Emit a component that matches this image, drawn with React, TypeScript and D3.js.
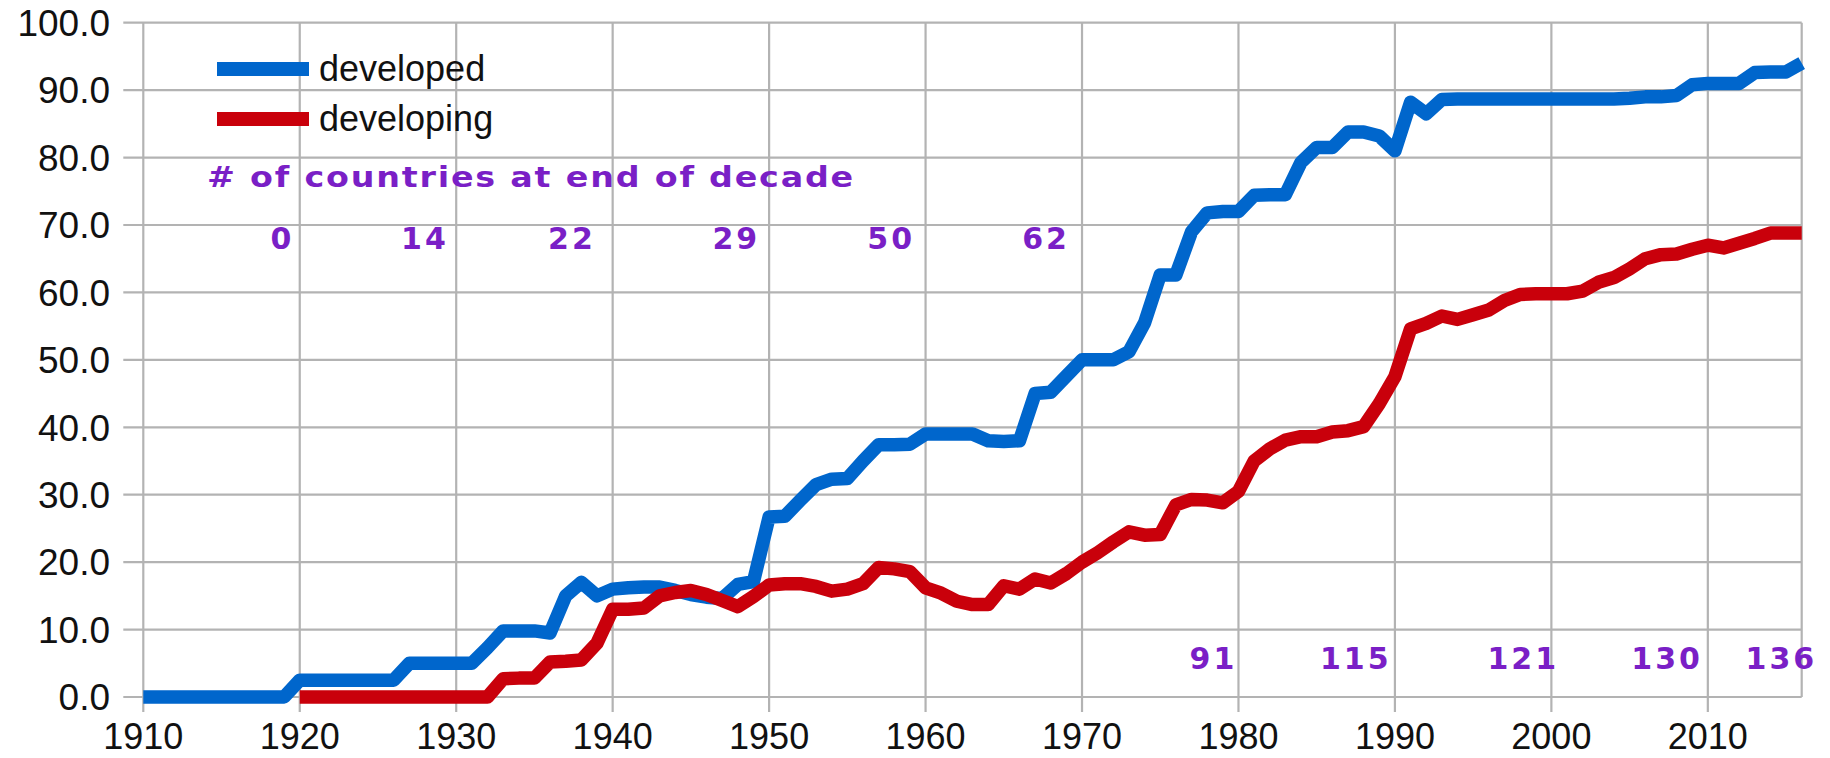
import React from "react";
import * as d3 from "d3";

const WIDTH = 1830;
const HEIGHT = 758;

// yearly share (%) of countries
const developedStart = 1910;
const developed = [
  0, 0, 0, 0, 0, 0, 0, 0, 0, 0, // 1910-1919
  2.5, 2.5, 2.5, 2.5, 2.5, 2.5, 2.5, 5.0, 5.0, 5.0, // 1920-1929
  5.0, 5.0, 7.3, 9.8, 9.8, 9.8, 9.5, 15.0, 17.0, 15.0, // 1930-1939
  16.0, 16.2, 16.3, 16.3, 15.8, 15.2, 14.8, 14.6, 16.7, 17.1, // 1940-1949
  26.7, 26.8, 29.2, 31.5, 32.3, 32.4, 35.0, 37.4, 37.4, 37.5, // 1950-1959
  39.0, 39.0, 39.0, 39.0, 38.0, 37.9, 38.0, 45.0, 45.2, 47.6, // 1960-1969
  50.0, 50.0, 50.0, 51.2, 55.5, 62.6, 62.6, 69.0, 71.8, 72.0, // 1970-1979
  72.0, 74.4, 74.5, 74.5, 79.3, 81.5, 81.5, 83.8, 83.8, 83.2, // 1980-1989
  81.0, 88.2, 86.5, 88.6, 88.7, 88.7, 88.7, 88.7, 88.7, 88.7, // 1990-1999
  88.7, 88.7, 88.7, 88.7, 88.7, 88.8, 89.0, 89.0, 89.2, 90.8, // 2000-2009
  91.0, 91.0, 91.0, 92.6, 92.7, 92.7, 94.0, // 2010-2016
];

const developingStart = 1920;
const developing = [
  0, 0, 0, 0, 0, 0, 0, 0, 0, 0, // 1920-1929
  0, 0, 0, 2.7, 2.8, 2.8, 5.2, 5.3, 5.5, 8.0, // 1930-1939
  13.0, 13.0, 13.2, 15.0, 15.5, 15.8, 15.2, 14.3, 13.4, 14.9, // 1940-1949
  16.6, 16.8, 16.8, 16.4, 15.7, 16.0, 16.8, 19.2, 19.0, 18.6, // 1950-1959
  16.2, 15.4, 14.2, 13.7, 13.7, 16.5, 16.0, 17.5, 16.9, 18.3, // 1960-1969
  20.0, 21.4, 23.0, 24.5, 24.0, 24.1, 28.5, 29.3, 29.2, 28.8, // 1970-1979
  30.5, 35.0, 36.8, 38.1, 38.6, 38.6, 39.3, 39.5, 40.1, 43.5, // 1980-1989
  47.5, 54.6, 55.4, 56.5, 56.0, 56.7, 57.4, 58.8, 59.7, 59.8, // 1990-1999
  59.8, 59.8, 60.2, 61.5, 62.2, 63.5, 65.0, 65.6, 65.7, 66.4, // 2000-2009
  67.0, 66.6, 67.3, 68.0, 68.8, 68.8, 68.8, // 2010-2016
];

const seriesNames = ["developed", "developing"];
const seriesColors = ["#0066cc", "#c9000b"];

const yTicks = [0, 10, 20, 30, 40, 50, 60, 70, 80, 90, 100];
const xTicks = [1910, 1920, 1930, 1940, 1950, 1960, 1970, 1980, 1990, 2000, 2010];

// number of countries at end of decade, with the year each label sits over
const countTitle = "# of countries at end of decade";
const countsTop = ["0", "14", "22", "29", "50", "62"];
const countsTopYear = [1918.9, 1928.0, 1937.4, 1947.9, 1957.8, 1967.7];
const countsBottom = ["91", "115", "121", "130", "136"];
const countsBottomYear = [1978.4, 1987.5, 1998.2, 2007.4, 2014.7];

const GRID = "#b3b3b3";
const PURPLE = "#7a1fc6";

export default function App() {
  const x = d3.scaleLinear().domain([1910, 2016]).range([143.3, 1801.7]);
  const y = d3.scaleLinear().domain([0, 100]).range([697, 22.7]);

  const toPoints = (vals: number[], start: number) =>
    vals.map((v, i) => [start + i, v] as [number, number]);

  const line = d3
    .line<[number, number]>()
    .x((d) => x(d[0]))
    .y((d) => y(d[1]));

  const series = [
    toPoints(developed, developedStart),
    toPoints(developing, developingStart),
  ];

  const [x0, x1] = x.range();
  const [y0, y1] = y.range();

  return (
    <svg
      width={WIDTH}
      height={HEIGHT}
      style={{ position: "absolute", left: 0, top: 0, background: "#fff" }}
      fontFamily="'Liberation Sans', Arial, sans-serif"
    >
      {/* horizontal grid + ticks */}
      {yTicks.map((t) => (
        <g key={"y" + t}>
          <line x1={x0 - 20} x2={x1} y1={y(t)} y2={y(t)} stroke={GRID} strokeWidth={2.2} />
          <text
            x={110}
            y={y(t)}
            dy="0.36em"
            textAnchor="end"
            fontSize={37}
            fill="#111"
          >
            {t.toFixed(1)}
          </text>
        </g>
      ))}
      {/* vertical grid + ticks */}
      {xTicks.map((t) => (
        <g key={"x" + t}>
          <line x1={x(t)} x2={x(t)} y1={y1} y2={y0 + 15} stroke={GRID} strokeWidth={2.2} />
          <text x={x(t)} y={749} textAnchor="middle" fontSize={36} fill="#111">
            {t}
          </text>
        </g>
      ))}
      <line x1={x1} x2={x1} y1={y1} y2={y0} stroke={GRID} strokeWidth={2.2} />

      {/* series lines */}
      {series.map((pts, i) => (
        <path
          key={seriesNames[i]}
          d={line(pts) || ""}
          fill="none"
          stroke={seriesColors[i]}
          strokeWidth={13.5}
          strokeLinejoin="round"
        />
      ))}

      {/* legend */}
      {seriesNames.map((name, i) => (
        <g key={"lg" + name} transform={`translate(217,${69 + i * 50})`}>
          <line x1={0} x2={92} y1={0} y2={0} stroke={seriesColors[i]} strokeWidth={14} />
          <text x={102} y={0} dy="0.33em" fontSize={36} fill="#111">
            {name}
          </text>
        </g>
      ))}

      {/* decade count annotations */}
      <g fontFamily="'DejaVu Sans', sans-serif" fontWeight="bold" fill={PURPLE}>
        <text x={207} y={187} fontSize={28} letterSpacing={1.5} textLength={648} lengthAdjust="spacingAndGlyphs">
          {countTitle}
        </text>
        {countsTop.map((c, i) => (
          <text
            key={"ct" + i}
            x={x(countsTopYear[i])}
            y={249}
            fontSize={30}
            letterSpacing={3}
            textAnchor="middle"
          >
            {c}
          </text>
        ))}
        {countsBottom.map((c, i) => (
          <text
            key={"cb" + i}
            x={x(countsBottomYear[i])}
            y={669}
            fontSize={30}
            letterSpacing={3}
            textAnchor="middle"
          >
            {c}
          </text>
        ))}
      </g>
    </svg>
  );
}
